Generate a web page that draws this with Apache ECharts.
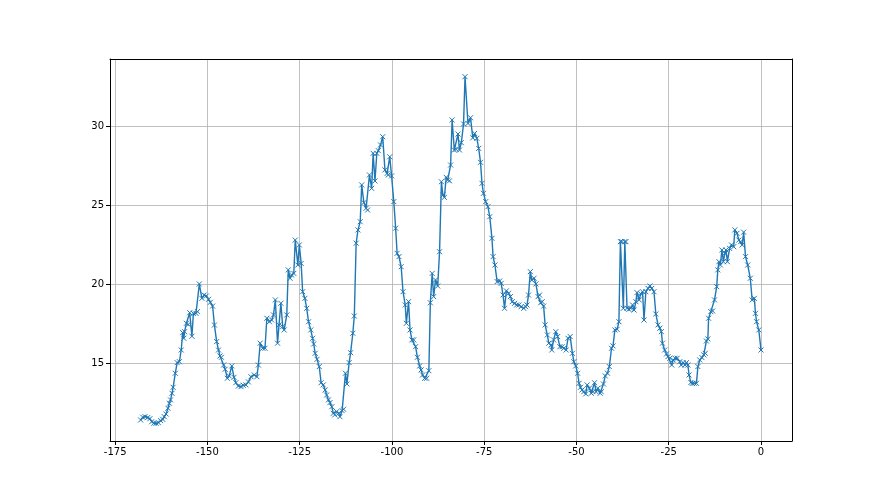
<!DOCTYPE html>
<html><head><meta charset="utf-8">
<script src="https://cdn.jsdelivr.net/npm/echarts@6/dist/echarts.min.js"></script>
<style>html,body{margin:0;padding:0;background:#fff}#c{width:880px;height:495px}</style>
</head><body><div id="c"></div>
<script>
var xTicks = [-175, -150, -125, -100, -75, -50, -25, 0];
var yTicks = [15, 20, 25, 30];
var xs = [-168.1,-167.5,-166.9,-166.2,-165.6,-165.1,-164.5,-163.9,-163.3,-162.7,-162.1,-161.7,-161.2,-160.7,-160.3,-160.0,-159.6,-159.3,-158.7,-158.2,-157.6,-157.1,-156.7,-156.4,-156.2,-155.7,-155.2,-154.8,-154.2,-153.8,-153.1,-152.7,-152.2,-151.5,-150.9,-150.3,-149.7,-149.2,-148.6,-148.1,-147.5,-147.0,-146.6,-146.2,-145.6,-145.2,-144.6,-144.1,-143.4,-142.8,-142.3,-141.6,-140.9,-140.3,-139.6,-138.9,-138.2,-137.3,-136.6,-136.2,-135.7,-135.0,-134.4,-133.9,-133.2,-132.6,-132.1,-131.6,-131.0,-130.6,-130.1,-129.6,-129.2,-128.5,-128.1,-127.6,-127.2,-126.6,-126.2,-125.5,-125.1,-124.6,-124.2,-123.6,-123.1,-122.6,-122.0,-121.5,-121.2,-120.8,-120.3,-119.7,-119.2,-118.6,-118.1,-117.7,-117.2,-116.8,-116.3,-115.9,-115.5,-115.0,-114.4,-114.1,-113.5,-113.1,-112.6,-112.2,-111.6,-111.2,-110.6,-110.2,-109.7,-109.2,-108.6,-108.2,-107.6,-107.0,-106.6,-106.1,-105.5,-105.1,-104.6,-104.1,-103.7,-103.1,-102.5,-101.9,-101.3,-101.0,-100.6,-100.1,-99.5,-99.0,-98.6,-98.1,-97.5,-97.0,-96.4,-96.1,-95.5,-95.1,-94.6,-94.1,-93.6,-93.1,-92.5,-92.1,-91.7,-91.1,-90.6,-90.0,-89.6,-89.1,-88.7,-88.2,-87.6,-87.1,-86.6,-86.2,-85.8,-85.3,-84.9,-84.4,-84.1,-83.7,-83.1,-82.6,-82.1,-81.7,-81.2,-80.6,-80.2,-79.4,-78.7,-78.1,-77.6,-77.0,-76.5,-76.0,-75.6,-75.2,-74.6,-74.0,-73.5,-72.9,-72.6,-72.1,-71.5,-70.8,-70.4,-69.9,-69.5,-69.0,-68.4,-67.9,-67.4,-66.8,-66.2,-65.6,-65.0,-64.3,-63.8,-63.4,-63.0,-62.5,-62.1,-61.5,-61.0,-60.4,-60.0,-59.7,-59.3,-58.9,-58.5,-57.9,-57.5,-56.9,-56.7,-56.2,-55.6,-55.1,-54.5,-53.9,-53.4,-52.8,-52.3,-51.7,-51.1,-50.7,-50.2,-49.7,-49.3,-48.9,-48.5,-48.0,-47.5,-47.1,-46.5,-46.0,-45.5,-45.1,-44.7,-44.2,-43.6,-43.3,-42.7,-42.2,-41.6,-41.1,-40.5,-40.1,-39.6,-39.0,-38.5,-38.1,-37.7,-37.3,-36.9,-36.6,-36.3,-35.8,-35.3,-34.8,-34.4,-33.9,-33.6,-33.0,-32.6,-32.1,-31.7,-31.2,-30.6,-30.1,-29.6,-29.0,-28.5,-27.9,-27.4,-27.0,-26.7,-26.1,-25.6,-25.2,-24.7,-24.2,-23.8,-23.3,-22.7,-22.0,-21.6,-21.1,-20.6,-20.2,-19.8,-19.5,-19.0,-18.6,-18.1,-17.5,-17.1,-16.6,-16.0,-15.5,-15.1,-14.8,-14.4,-14.2,-13.6,-13.1,-12.6,-12.0,-11.7,-11.4,-11.0,-10.6,-10.2,-9.8,-9.5,-9.1,-8.5,-8.0,-7.4,-7.1,-6.5,-6.0,-5.5,-5.1,-4.7,-4.2,-3.6,-2.9,-2.4,-1.8,-1.5,-1.2,-0.6,0.0];
var ys = [11.39,11.56,11.6,11.54,11.47,11.28,11.18,11.18,11.22,11.35,11.43,11.6,11.77,12.13,12.45,12.66,13.08,13.46,14.35,15.02,15.08,15.82,16.92,16.56,16.98,17.51,17.44,18.18,16.69,18.14,18.14,18.25,20.0,19.09,19.3,19.24,19.03,18.84,18.6,17.4,16.35,15.82,15.44,15.36,14.87,14.6,14.03,14.18,14.81,14.09,13.75,13.54,13.5,13.59,13.61,13.8,14.13,14.24,14.13,14.87,16.25,15.93,15.93,17.83,17.61,17.72,18.04,18.99,16.25,17.41,18.78,17.3,17.09,18.04,20.89,20.36,20.57,20.67,22.78,21.2,22.47,21.3,19.51,19.09,18.46,17.61,17.09,16.56,16.2,15.61,15.23,14.77,13.75,13.61,13.29,12.97,12.66,12.49,12.23,11.81,11.71,11.92,11.81,11.6,11.98,12.07,14.35,13.67,15.02,15.65,16.88,17.97,22.58,23.42,23.94,26.27,25.15,24.79,24.68,26.9,26.05,28.27,26.52,28.27,28.44,28.8,29.32,27.22,27.0,26.9,28.05,26.84,25.21,23.53,21.94,21.73,21.09,19.51,18.67,17.51,18.88,17.09,16.46,16.46,16.03,15.36,14.81,14.56,14.24,14.03,14.03,14.51,18.81,20.67,19.2,20.25,19.87,22.04,26.47,25.63,25.48,26.75,26.58,26.53,27.53,30.38,28.48,28.52,29.49,28.48,28.94,30.13,33.12,30.16,30.52,29.25,29.53,29.22,28.58,27.7,26.37,25.74,25.21,24.89,24.26,22.89,21.73,21.2,20.15,20.19,20.04,19.3,18.46,19.56,19.41,19.2,18.88,18.77,18.67,18.67,18.56,18.46,18.56,18.67,19.3,20.78,20.25,20.36,20.0,19.2,19.3,18.81,18.88,18.6,17.41,16.77,16.25,16.14,15.82,16.46,16.98,16.67,16.03,16.03,15.93,15.82,16.56,16.67,15.61,15.08,14.81,14.35,13.71,13.46,13.29,13.18,13.04,13.61,13.4,13.08,13.18,13.75,13.18,13.4,13.08,13.18,13.67,14.18,14.35,14.77,15.93,16.08,17.09,17.13,17.61,22.68,22.68,18.46,22.68,22.68,18.46,18.39,18.46,18.67,18.35,18.88,19.45,18.99,19.37,19.51,17.72,19.51,19.72,19.87,19.72,19.51,18.1,17.41,17.2,16.98,16.25,15.82,15.57,15.4,15.3,14.87,15.19,15.3,15.3,15.08,14.87,15.02,14.87,15.02,14.87,14.24,13.76,13.71,13.71,13.71,14.77,15.19,15.34,15.51,15.61,16.39,16.52,17.83,18.25,18.29,18.99,19.83,20.89,21.41,21.2,22.15,21.41,21.94,22.15,21.41,22.25,22.47,22.36,23.42,23.21,22.78,22.68,22.47,23.28,21.73,21.2,20.36,18.99,19.09,18.14,17.61,17.09,15.82];

var data = xs.map(function (x, i) { return [x, ys[i]]; });
var chart = echarts.init(document.getElementById('c'), null, {renderer: 'canvas'});
var X_MIN = -176.4, X_MAX = 8.4, Y_MIN = 10.06, Y_MAX = 34.24;
function mainAxis(min, max, ticks) {
  return {
    type: 'value', min: min, max: max,
    axisLine: {show: true, onZero: false, lineStyle: {color: '#000', width: 1}},
    axisTick: {show: true, inside: false, length: 4, customValues: ticks, lineStyle: {color: '#000', width: 1}},
    axisLabel: {color: '#000', fontSize: 10, fontFamily: 'DejaVu Sans', margin: 6, customValues: ticks},
    splitLine: {show: true, lineStyle: {color: '#b0b0b0', width: 0.8}}
  };
}
function frameAxis(min, max, pos) {
  return {
    type: 'value', min: min, max: max, position: pos,
    axisLine: {show: true, onZero: false, lineStyle: {color: '#000', width: 1}},
    axisTick: {show: false}, axisLabel: {show: false}, splitLine: {show: false}
  };
}
chart.setOption({
  animation: false,
  backgroundColor: '#fff',
  grid: {left: 110, right: 88, top: 59, bottom: 54},
  xAxis: [mainAxis(X_MIN, X_MAX, xTicks), frameAxis(X_MIN, X_MAX, 'top')],
  yAxis: [mainAxis(Y_MIN, Y_MAX, yTicks), frameAxis(Y_MIN, Y_MAX, 'right')],
  series: [{
    type: 'line',
    data: data,
    xAxisIndex: 0, yAxisIndex: 0,
    color: '#1f77b4',
    lineStyle: {color: '#1f77b4', width: 1.4},
    symbol: 'path://M0,0L10,10M10,0L0,10',
    symbolSize: 5,
    showAllSymbol: true,
    itemStyle: {color: '#1f77b4', borderColor: '#1f77b4', borderWidth: 1},
    emphasis: {disabled: true}
  }]
});
</script>
</body></html>
